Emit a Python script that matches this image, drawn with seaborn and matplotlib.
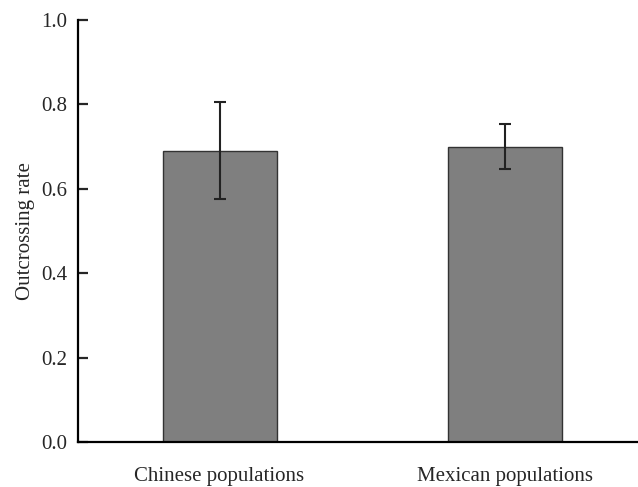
import matplotlib
matplotlib.use("Agg")
import matplotlib.pyplot as plt
import seaborn as sns
import pandas as pd

categories = ["Chinese populations", "Mexican populations"]
rates = [0.69, 0.70]
errors = [0.115, 0.053]
yticks = [0.0, 0.2, 0.4, 0.6, 0.8, 1.0]

sns.set_style("white")
plt.rcParams['font.family'] = ['Liberation Serif', 'DejaVu Serif']
plt.rcParams['ytick.direction'] = 'in'

df = pd.DataFrame({"group": categories, "rate": rates})

fig = plt.figure(figsize=(6.38, 4.87), dpi=100)
ax = fig.add_axes([78/638, 45/487, 560/638, 422/487])

sns.barplot(data=df, x="group", y="rate", color="#7f7f7f", saturation=1,
            width=0.4, edgecolor="#333333", linewidth=1.0, ax=ax)
ax.errorbar(x=list(range(len(categories))), y=rates, yerr=errors, fmt="none",
            ecolor="#222222", elinewidth=1.5, capsize=4.5, capthick=1.5)

ax.set_ylim(0, 1.0)
ax.set_xlim(-0.4965, 1.468)
ax.set_yticks(yticks)
ax.set_yticklabels([f"{t:.1f}" for t in yticks])
ax.set_xlabel("")
ax.set_ylabel("Outcrossing rate", fontsize=15, labelpad=4)

for s in ["top", "right"]:
    ax.spines[s].set_visible(False)
for s in ["left", "bottom"]:
    ax.spines[s].set_linewidth(1.6)
    ax.spines[s].set_color("black")

ax.tick_params(axis="y", direction="in", length=7, width=1.6, labelsize=15, pad=8, left=True)
ax.tick_params(axis="x", length=0, labelsize=15, pad=18)

fig.savefig("out.png", dpi=100)
